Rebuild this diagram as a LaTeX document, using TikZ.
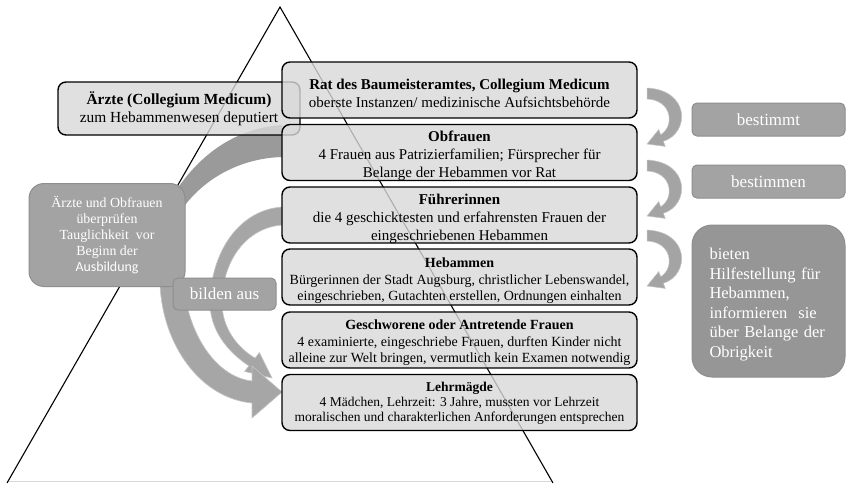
\documentclass[tikz,border=0pt]{standalone}
\usepackage{fontspec}
\setmainfont{LiberationSerif}[Extension=.ttf, UprightFont=*-Regular, BoldFont=*-Bold, ItalicFont=*-Italic, BoldItalicFont=*-BoldItalic]
\newfontfamily\calibfont{Carlito}
\definecolor{boxfill}{HTML}{D9D9D9}
\definecolor{grayfill}{HTML}{A3A3A3}
\definecolor{grayedge}{HTML}{8E8E8E}
\definecolor{bandone}{HTML}{9A9A9A}
\definecolor{bandtwo}{HTML}{A6A6A6}
\definecolor{bandedge}{HTML}{C4C4C4}
\newcommand\fsA{\fontsize{15}{18}\selectfont}
\newcommand\fsB{\fontsize{14}{16.5}\selectfont}
\newcommand\fsC{\fontsize{13.5}{15}\selectfont}
\begin{document}
\begin{tikzpicture}[x=1pt,y=-1pt,
  mainbox/.style={draw=black, line width=1.4pt, fill=boxfill, fill opacity=0.8,
    rounded corners=8pt, minimum width=355pt, minimum height=56pt, inner sep=0pt},
  boxtext/.style={align=center, inner sep=0pt, text=black},
  graybox/.style={draw=grayedge, line width=1pt, fill=grayfill, text=white, align=center, inner sep=1pt},
  bandA/.style={fill=bandone},
  bandB/.style={fill=bandtwo, draw=bandedge, line width=0.6pt},
  rarrow/.style={fill=bandone!90!white, draw=bandedge, line width=0.5pt}
]
\useasboundingbox (0,0) rectangle (847,483);
\fill[white] (0,0) rectangle (847,483);
% pyramid
\draw[black!15, line width=0.8pt] (7,481.5) -- (553,481.5);
\draw[line width=1.1pt] (7,483) -- (280,7) -- (553,483);
% band from left box to Obfrauen
\path[bandA] (170,200) .. controls (200,150) and (240,128) .. (282,125)
  -- (282,157) .. controls (245,158) and (205,175) .. (180,212) -- cycle;
% thin band from Fuehrerinnen to Lehrmaegde
\path[bandB] (282,207) .. controls (240,210) and (212,250) .. (210,300)
  .. controls (209,330) and (228,352) .. (248.9,365.9) -- (244.6,371.4) -- (272,378)
  -- (259.4,352.6) -- (255.1,358.1) .. controls (238,348) and (221,328) .. (222,300)
  .. controls (223,262) and (245,228) .. (282,225) -- cycle;
% big band from left box to Lehrmaegde
\path[bandB] (160,270) -- (160,285) .. controls (163,345) and (200,398) .. (252,403)
  -- (252,418) -- (282,392) -- (252,366) -- (252,381)
  .. controls (222,378) and (192,345) .. (184,290) -- (183,270) -- cycle;
% left gray boxes
\node[graybox, rounded corners=15pt, minimum width=156pt, minimum height=103pt,
  font=\fontsize{13.9}{16}\selectfont] (pruef) at (107,235)
  {Ärzte und Obfrauen\\überprüfen\\Tauglichkeit\ \ vor\\Beginn der\\{\calibfont Ausbildung}};
\node[graybox, rounded corners=5pt, minimum width=103pt, minimum height=32pt,
  font=\fontsize{17}{20}\selectfont] (bilden) at (224.5,294) {bilden aus};
% doctors box
\node[mainbox, minimum width=242pt, minimum height=53pt] (aerzte) at (179,108.5) {};
\node[boxtext, font=\fontsize{15.4}{18}\selectfont] (aerzteT) at (aerzte.center)
  {\textbf{Ärzte (Collegium Medicum)}\\zum Hebammenwesen deputiert};
% main stack
\node[mainbox] (rat) at (459.5,90) {};
\node[boxtext, font=\fsA] (ratT) at ([yshift=-3pt]rat.center)
  {\textbf{Rat des Baumeisteramtes, Collegium Medicum}\\oberste Instanzen/ medizinische Aufsichtsbehörde};
\node[mainbox] (obfrauen) at (459.5,152.5) {};
\node[boxtext, font=\fsA] (obfrauenT) at ([yshift=-3.5pt]obfrauen.center)
  {\textbf{Obfrauen}\\4 Frauen aus Patrizierfamilien; Fürsprecher für\\Belange der Hebammen vor Rat};
\node[mainbox] (fuehrer) at (459.5,215) {};
\node[boxtext, font=\fsA] (fuehrerT) at ([yshift=-4pt]fuehrer.center)
  {\textbf{Führerinnen}\\die 4 geschicktesten und erfahrensten Frauen der\\eingeschriebenen Hebammen};
\node[mainbox] (hebammen) at (459.5,277) {};
\node[boxtext, font=\fsB] (hebammenT) at ([yshift=-4pt]hebammen.center)
  {\textbf{Hebammen}\\Bürgerinnen der Stadt Augsburg, christlicher Lebenswandel,\\eingeschrieben, Gutachten erstellen, Ordnungen einhalten};
\node[mainbox] (geschw) at (459.5,340) {};
\node[boxtext, font=\fsB] (geschwT) at ([yshift=-3pt]geschw.center)
  {\textbf{Geschworene oder Antretende Frauen}\\4 examinierte, eingeschriebe Frauen, durften Kinder nicht\\alleine zur Welt bringen, vermutlich kein Examen notwendig};
\node[mainbox] (lehr) at (459.5,402.5) {};
\node[boxtext, font=\fsC] (lehrT) at ([yshift=-1pt]lehr.center)
  {\textbf{Lehrmägde}\\4 Mädchen, Lehrzeit: 3 Jahre, mussten vor Lehrzeit\\moralischen und charakterlichen Anforderungen entsprechen};
% right curved arrows
\foreach \yy in {88,160,230}{
  \path[rarrow] (647,\yy) .. controls (690,\yy+2) and (690,\yy+45) .. (663.3,\yy+53.3)
    -- (665.3,\yy+58.4) -- (647,\yy+56) -- (658.7,\yy+41.6) -- (660.7,\yy+46.7)
    .. controls (675,\yy+38) and (672,\yy+12) .. (647,\yy+11) -- cycle;
}
% right labels
\node[graybox, rounded corners=5pt, minimum width=153pt, minimum height=33pt,
  font=\fontsize{17}{20}\selectfont] (bestimmt) at (768.5,119.5) {bestimmt};
\node[graybox, rounded corners=5pt, minimum width=153pt, minimum height=33pt,
  font=\fontsize{17}{20}\selectfont] (bestimmen) at (768.5,181.5) {bestimmen};
\node[graybox, fill=grayfill!92!black, rounded corners=20pt, minimum height=152pt,
  minimum width=153pt] (bieten) at (768.5,301) {};
\node[text=white, text width=118pt, inner sep=0pt, align=left,
  font=\fontsize{16.5}{19.5}\selectfont] (bietenT) at ([xshift=0pt,yshift=-3.5pt]bieten.center)
  {bieten\\Hilfestellung für\\Hebammen,\\informieren\ \ sie\\über Belange der\\Obrigkeit};
\end{tikzpicture}
\end{document}
